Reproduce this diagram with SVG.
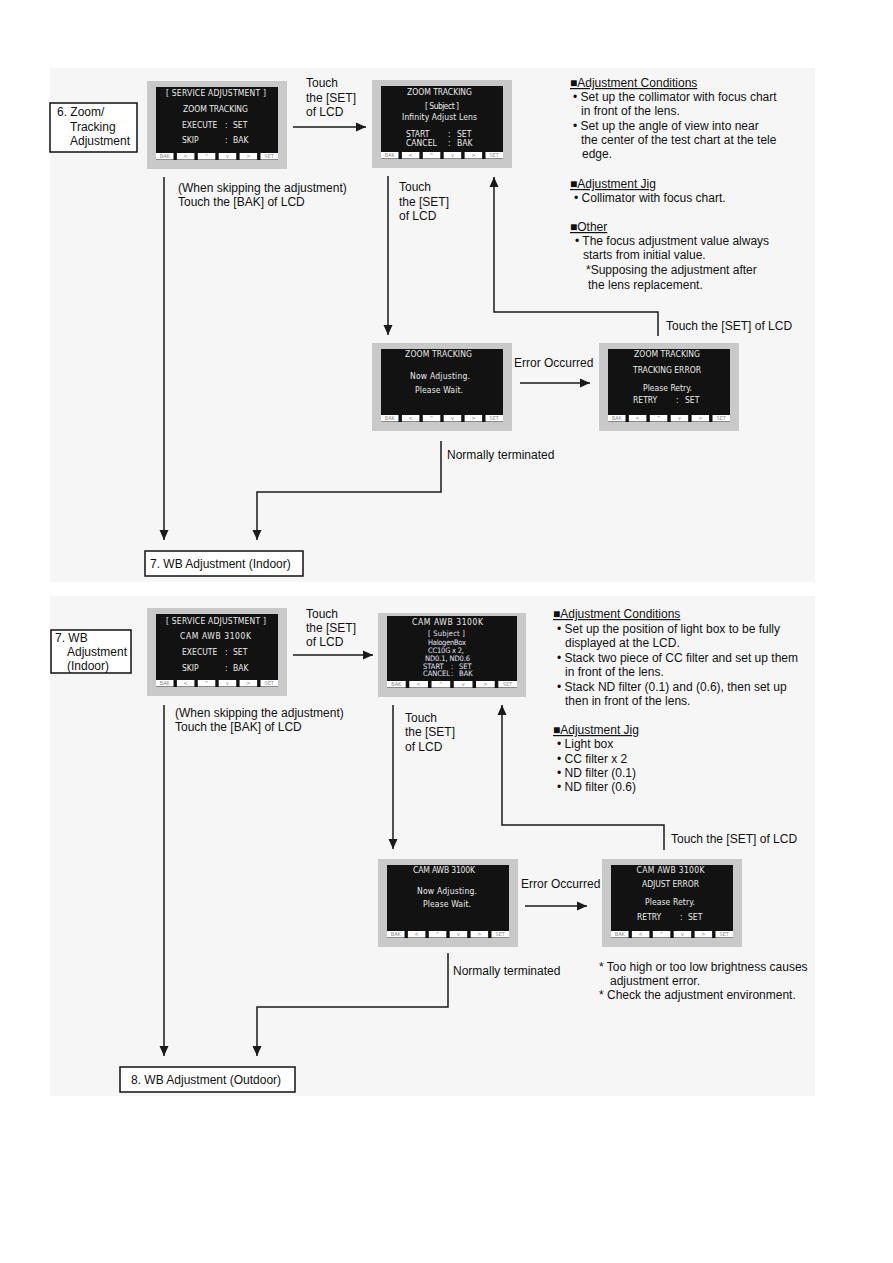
<svg xmlns="http://www.w3.org/2000/svg" width="893" height="1263" viewBox="0 0 893 1263">
<style>
.lb{font-family:"Liberation Sans",Arial,sans-serif;font-size:12px;fill:#111}
.hd{text-decoration:underline}
.lcd{font-family:"DejaVu Sans Condensed","Liberation Sans Narrow",sans-serif;font-size:8.5px;fill:#ececec}
.lcds{font-family:"DejaVu Sans Condensed","Liberation Sans Narrow",sans-serif;font-size:7.5px;fill:#e2e2f2}
.btn{font-family:"DejaVu Sans Condensed",sans-serif;font-size:5.5px;fill:#8a8a8a;text-anchor:middle}
.box{fill:#fff;stroke:#111;stroke-width:1.5}
.con{fill:none;stroke:#1a1a1a;stroke-width:1.5}
.m{text-anchor:middle}
.fr{fill:#c9c9c9}
.sc{fill:#121212}
.bt{fill:#fff}
</style>
<defs>
<marker id="ah" markerUnits="userSpaceOnUse" markerWidth="10" markerHeight="10" refX="10" refY="5" orient="auto">
<path d="M0,0.5 L10,5 L0,9.5 z" fill="#1a1a1a"/>
</marker>
<g id="lcd">
<rect class="fr" width="140" height="88"/>
<rect class="sc" x="9" y="6" width="122" height="73"/>
<rect class="bt" x="9" y="72" width="17.5" height="6.5"/>
<rect class="bt" x="29.9" y="72" width="17.5" height="6.5"/>
<rect class="bt" x="50.8" y="72" width="17.5" height="6.5"/>
<rect class="bt" x="71.7" y="72" width="17.5" height="6.5"/>
<rect class="bt" x="92.6" y="72" width="17.5" height="6.5"/>
<rect class="bt" x="113.5" y="72" width="17.5" height="6.5"/>
<text class="btn" x="17.75" y="77.3">BAK</text>
<text class="btn" x="38.65" y="77.3">&lt;</text>
<text class="btn" x="59.55" y="77.3">^</text>
<text class="btn" x="80.45" y="77.3">v</text>
<text class="btn" x="101.35" y="77.3">&gt;</text>
<text class="btn" x="122.25" y="77.3">SET</text>
</g>
<g id="lcdw">
<rect class="fr" width="148" height="84"/>
<rect class="sc" x="9" y="3" width="130" height="72"/>
<rect class="bt" x="9" y="68" width="18.7" height="6.5"/>
<rect class="bt" x="31.26" y="68" width="18.7" height="6.5"/>
<rect class="bt" x="53.52" y="68" width="18.7" height="6.5"/>
<rect class="bt" x="75.78" y="68" width="18.7" height="6.5"/>
<rect class="bt" x="98.04" y="68" width="18.7" height="6.5"/>
<rect class="bt" x="120.3" y="68" width="18.7" height="6.5"/>
<text class="btn" x="18.35" y="73.3">BAK</text>
<text class="btn" x="40.61" y="73.3">&lt;</text>
<text class="btn" x="62.87" y="73.3">^</text>
<text class="btn" x="85.13" y="73.3">v</text>
<text class="btn" x="107.39" y="73.3">&gt;</text>
<text class="btn" x="129.65" y="73.3">SET</text>
</g>
</defs>

<rect x="50" y="68" width="765" height="514" fill="#f6f6f6"/>
<rect x="50" y="596" width="765" height="500" fill="#f6f6f6"/>

<g id="connectors">
<path class="con" marker-end="url(#ah)" d="M293,127 H366"/>
<path class="con" marker-end="url(#ah)" d="M164,177 V540"/>
<path class="con" marker-end="url(#ah)" d="M388,176 V335"/>
<path class="con" marker-end="url(#ah)" d="M658,336 V312 H494 V177"/>
<path class="con" marker-end="url(#ah)" d="M520,383 H590"/>
<path class="con" marker-end="url(#ah)" d="M441,441 V492 H257 V540"/>
<path class="con" marker-end="url(#ah)" d="M293,655 H373"/>
<path class="con" marker-end="url(#ah)" d="M164,705 V1056"/>
<path class="con" marker-end="url(#ah)" d="M393,705 V849"/>
<path class="con" marker-end="url(#ah)" d="M664,850 V825 H502 V705"/>
<path class="con" marker-end="url(#ah)" d="M525,906 H587"/>
<path class="con" marker-end="url(#ah)" d="M448,953 V1007 H257 V1056"/>
</g>

<g id="labels">
<text class="lb" x="306" y="87">Touch</text>
<text class="lb" x="306" y="102">the [SET]</text>
<text class="lb" x="306" y="116">of LCD</text>
<text class="lb" x="178" y="192">(When skipping the adjustment)</text>
<text class="lb" x="178" y="206">Touch the [BAK] of LCD</text>
<text class="lb" x="399" y="191">Touch</text>
<text class="lb" x="399" y="206">the [SET]</text>
<text class="lb" x="399" y="220">of LCD</text>
<text class="lb" x="666" y="330">Touch the [SET] of LCD</text>
<text class="lb" x="514" y="367">Error Occurred</text>
<text class="lb" x="447" y="459">Normally terminated</text>

<text class="lb" x="306" y="618">Touch</text>
<text class="lb" x="306" y="632">the [SET]</text>
<text class="lb" x="306" y="646">of LCD</text>
<text class="lb" x="175" y="717">(When skipping the adjustment)</text>
<text class="lb" x="175" y="731">Touch the [BAK] of LCD</text>
<text class="lb" x="405" y="722">Touch</text>
<text class="lb" x="405" y="736">the [SET]</text>
<text class="lb" x="405" y="751">of LCD</text>
<text class="lb" x="671" y="843">Touch the [SET] of LCD</text>
<text class="lb" x="521" y="888">Error Occurred</text>
<text class="lb" x="453" y="975">Normally terminated</text>
<text class="lb" x="599" y="971">* Too high or too low brightness causes</text>
<text class="lb" x="610" y="985">adjustment error.</text>
<text class="lb" x="599" y="999">* Check the adjustment environment.</text>
</g>

<g id="notes-top">
<text class="lb hd" x="570" y="87">■Adjustment Conditions</text>
<text class="lb" x="573" y="101">• Set up the collimator with focus chart</text>
<text class="lb" x="581" y="115">in front of the lens.</text>
<text class="lb" x="573" y="130">• Set up the angle of view into near</text>
<text class="lb" x="581" y="144">the center of the test chart at the tele</text>
<text class="lb" x="582" y="158">edge.</text>
<text class="lb hd" x="570" y="188">■Adjustment Jig</text>
<text class="lb" x="574" y="202">• Collimator with focus chart.</text>
<text class="lb hd" x="570" y="231">■Other</text>
<text class="lb" x="575" y="245">• The focus adjustment value always</text>
<text class="lb" x="583" y="259">starts from initial value.</text>
<text class="lb" x="586" y="274">*Supposing the adjustment after</text>
<text class="lb" x="588" y="289">the lens replacement.</text>
</g>

<g id="notes-bottom">
<text class="lb hd" x="553" y="618">■Adjustment Conditions</text>
<text class="lb" x="557" y="633">• Set up the position of light box to be fully</text>
<text class="lb" x="565" y="647">displayed at the LCD.</text>
<text class="lb" x="557" y="662">• Stack two piece of CC filter and set up them</text>
<text class="lb" x="565" y="676">in front of the lens.</text>
<text class="lb" x="557" y="691">• Stack ND filter (0.1) and (0.6), then set up</text>
<text class="lb" x="565" y="705">then in front of the lens.</text>
<text class="lb hd" x="553" y="734">■Adjustment Jig</text>
<text class="lb" x="557" y="748">• Light box</text>
<text class="lb" x="557" y="763">• CC filter x 2</text>
<text class="lb" x="557" y="777">• ND filter (0.1)</text>
<text class="lb" x="557" y="791">• ND filter (0.6)</text>
</g>

<g id="node-6">
<rect class="box" x="50" y="103" width="87" height="49"/>
<text class="lb" x="57" y="116">6. Zoom/</text>
<text class="lb" x="70" y="130.5">Tracking</text>
<text class="lb" x="70" y="145">Adjustment</text>
</g>
<g id="node-7-end">
<rect class="box" x="145" y="551" width="158" height="25"/>
<text class="lb" x="150" y="568">7. WB Adjustment (Indoor)</text>
</g>
<g id="node-7">
<rect class="box" x="51" y="630" width="80" height="43"/>
<text class="lb" x="55" y="642">7. WB</text>
<text class="lb" x="67" y="656">Adjustment</text>
<text class="lb" x="67" y="670">(Indoor)</text>
</g>
<g id="node-8">
<rect class="box" x="120" y="1067" width="175" height="25"/>
<text class="lb" x="131" y="1084">8. WB Adjustment (Outdoor)</text>
</g>

<g id="lcd-1">
<use href="#lcd" x="147" y="81"/>
<text class="lcd m" x="216" y="96" textLength="100">[ SERVICE ADJUSTMENT ]</text>
<text class="lcd m" x="215.5" y="112" textLength="65">ZOOM TRACKING</text>
<text class="lcd" y="128"><tspan x="182">EXECUTE</tspan><tspan x="225">:</tspan><tspan x="233">SET</tspan></text>
<text class="lcd" y="143"><tspan x="182">SKIP</tspan><tspan x="225">:</tspan><tspan x="233">BAK</tspan></text>
</g>
<g id="lcd-2">
<use href="#lcd" x="372" y="80"/>
<text class="lcd m" x="439.5" y="95" textLength="65">ZOOM TRACKING</text>
<text class="lcd m" x="442" y="109" textLength="34">[ Subject ]</text>
<text class="lcd m" x="439.5" y="120" textLength="75">Infinity Adjust Lens</text>
<text class="lcd" y="137"><tspan x="406">START</tspan><tspan x="448">:</tspan><tspan x="457">SET</tspan></text>
<text class="lcd" y="146"><tspan x="406">CANCEL</tspan><tspan x="448">:</tspan><tspan x="457">BAK</tspan></text>
</g>
<g id="lcd-3">
<use href="#lcd" x="372" y="343"/>
<text class="lcd m" x="438.5" y="357" textLength="67">ZOOM TRACKING</text>
<text class="lcd m" x="440" y="379" textLength="60">Now Adjusting.</text>
<text class="lcd m" x="439" y="393" textLength="48">Please Wait.</text>
</g>
<g id="lcd-4">
<use href="#lcd" x="599" y="343"/>
<text class="lcd m" x="667" y="357" textLength="66">ZOOM TRACKING</text>
<text class="lcd m" x="667" y="373" textLength="68">TRACKING ERROR</text>
<text class="lcd m" x="667.5" y="391" textLength="49">Please Retry.</text>
<text class="lcd" y="403"><tspan x="633">RETRY</tspan><tspan x="676">:</tspan><tspan x="685">SET</tspan></text>
</g>
<g id="lcd-5">
<use href="#lcd" x="147" y="608"/>
<text class="lcd m" x="216" y="624" textLength="100">[ SERVICE ADJUSTMENT ]</text>
<text class="lcd m" x="215.5" y="639" textLength="71">CAM AWB 3100K</text>
<text class="lcd" y="655"><tspan x="182">EXECUTE</tspan><tspan x="225">:</tspan><tspan x="233">SET</tspan></text>
<text class="lcd" y="671"><tspan x="182">SKIP</tspan><tspan x="225">:</tspan><tspan x="233">BAK</tspan></text>
</g>
<g id="lcd-6">
<use href="#lcdw" x="378" y="613"/>
<text class="lcd m" x="447.5" y="625" textLength="71">CAM AWB 3100K</text>
<text class="lcds m" x="446.5" y="636" textLength="37">[ Subject ]</text>
<text class="lcds m" x="447" y="645" textLength="38">HalogenBox</text>
<text class="lcds m" x="446" y="653" textLength="36">CC10G x 2,</text>
<text class="lcds m" x="447.5" y="661" textLength="45">ND0.1, ND0.6</text>
<text class="lcds" y="668.5"><tspan x="423">START</tspan><tspan x="451">:</tspan><tspan x="459">SET</tspan></text>
<text class="lcds" y="676"><tspan x="423">CANCEL</tspan><tspan x="451">:</tspan><tspan x="459">BAK</tspan></text>
</g>
<g id="lcd-7">
<use href="#lcd" x="378" y="859"/>
<text class="lcd m" x="444" y="873" textLength="62">CAM AWB 3100K</text>
<text class="lcd m" x="447" y="894" textLength="60">Now Adjusting.</text>
<text class="lcd m" x="447" y="907" textLength="48">Please Wait.</text>
</g>
<g id="lcd-8">
<use href="#lcd" x="602" y="859"/>
<text class="lcd m" x="670.5" y="873" textLength="68">CAM AWB 3100K</text>
<text class="lcd m" x="670.5" y="887" textLength="57">ADJUST ERROR</text>
<text class="lcd m" x="670" y="905" textLength="50">Please Retry.</text>
<text class="lcd" y="920"><tspan x="637">RETRY</tspan><tspan x="680">:</tspan><tspan x="688">SET</tspan></text>
</g>
</svg>
